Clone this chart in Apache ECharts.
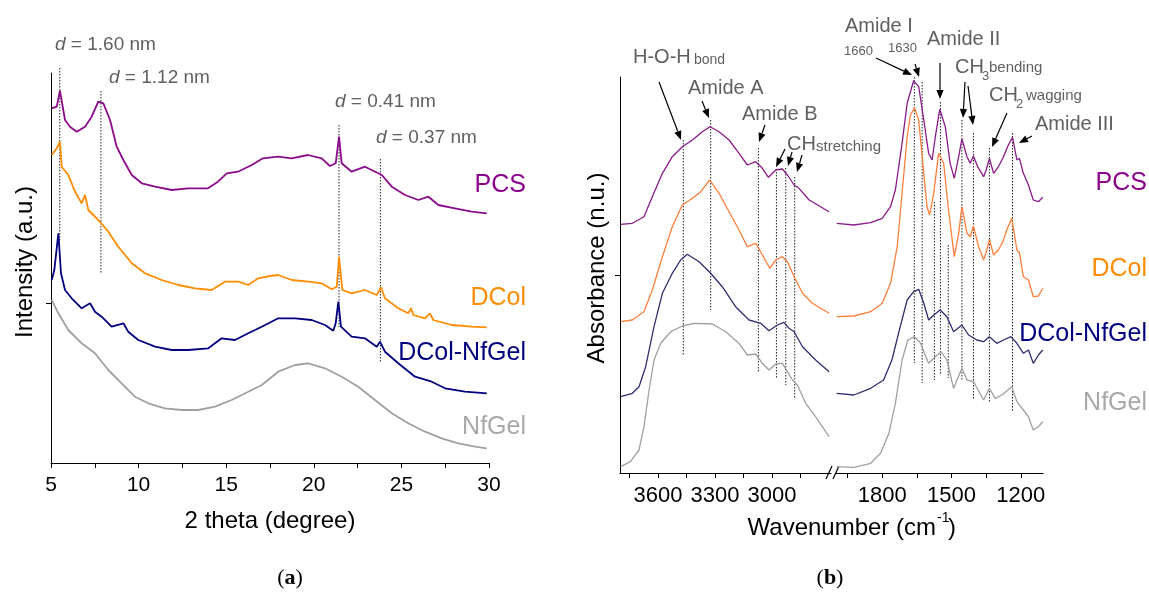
<!DOCTYPE html>
<html>
<head>
<meta charset="utf-8">
<title>XRD and FTIR</title>
<script src="https://cdn.jsdelivr.net/npm/echarts@6/dist/echarts.min.js"></script>
<style>
    html, body { margin: 0; padding: 0; background: #fff; }
    #chart { width: 1149px; height: 597px; }
</style>
</head>
<body>
<div id="chart"></div>
<script>
// (a) XRD: 2 theta (degree) vs stacked intensity (a.u.)
var xrdPCS = [[5.04,354.7],[5.33,356.3],[5.51,372.3],[5.70,353],[5.80,343],[6.08,336.3],[6.47,331.3],[6.94,336.3],[7.32,346.3],[7.70,361.3],[7.99,359.7],[8.37,343],[8.75,316.3],[9.13,303],[9.61,288],[10.18,279.7],[10.94,276.3],[11.89,273],[12.82,274.7],[13.96,274.7],[14.53,281.3],[15.03,289.7],[15.67,291.3],[16.46,298],[17.10,304.7],[17.96,306.3],[18.74,304.7],[19.67,308],[20.45,304.7],[20.92,297],[21.25,299.7],[21.44,326.3],[21.59,299.7],[22.16,291.3],[22.92,296.3],[23.68,289.7],[23.88,288],[24.45,276.3],[25.21,268],[25.97,263],[26.54,266.3],[27.11,258],[28.06,254.7],[29.01,251.3],[29.87,249.7]];
var xrdDCol = [[5.04,308],[5.33,314.7],[5.51,321.3],[5.61,296.3],[5.99,288],[6.37,271.3],[6.75,259.7],[6.94,268],[7.13,253],[7.70,243],[8.27,231.3],[8.84,216.3],[9.61,199.7],[10.37,189.7],[11.32,183],[12.27,178],[13.22,174.7],[14.17,173],[14.93,181.3],[15.69,181.3],[16.26,178],[16.83,184.7],[17.5,187],[17.97,188],[18.74,183],[19.69,181.3],[20.45,179.7],[21.02,173.7],[21.31,176.3],[21.44,206.3],[21.63,173],[22.16,169.7],[22.92,173],[23.59,168],[23.84,175.7],[24.06,164.7],[24.82,154.7],[25.39,149.7],[25.55,154.7],[25.68,148],[26.35,144.7],[26.63,149.7],[26.82,143],[27.87,138],[29.01,136.3],[29.87,135.7]];
var xrdMix = [[5.04,183],[5.19,193],[5.42,229.7],[5.57,189.7],[5.80,173],[6.18,164.7],[6.75,154.7],[7.23,159.7],[7.51,151.3],[7.89,146.3],[8.46,136.3],[9.13,139.7],[9.41,131.3],[9.98,123],[10.94,116.3],[11.89,113],[12.84,113],[13.98,114.7],[14.74,124.7],[15.50,123],[16.26,129.7],[17.03,136.3],[17.97,144.7],[18.93,144.7],[19.88,143],[20.64,138],[21.11,132.3],[21.25,139.7],[21.40,161.3],[21.55,136.3],[22.16,126.3],[22.92,124.7],[23.59,116.3],[23.78,121.3],[24.06,111.3],[24.82,99.7],[25.78,86.3],[26.73,81.3],[27.49,74.7],[28.63,71.3],[29.87,69.7]];
var xrdNfGel = [[5.04,163],[5.42,149.7],[5.99,133],[6.75,119.7],[7.51,109.7],[8.27,93],[9.03,79.7],[9.79,66.3],[10.55,59.7],[11.50,54.7],[12.46,53],[13.41,53],[14.36,56.3],[15.31,63],[16.26,71.3],[17.03,78],[17.97,91.3],[18.93,98],[19.69,99.7],[20.64,94.7],[21.59,86.3],[22.54,76.3],[23.49,63],[24.45,49.7],[25.39,39.7],[26.35,31.3],[27.30,24.7],[28.25,19.7],[29.20,16.3],[29.87,14.7]];
// peak markers: [2theta, top, bottom]
var xrdPeaks = [[5.5,395,223],[7.85,372,190],[21.44,338,136],[23.8,304,101]];

// (b) FTIR: wavenumber (cm-1) vs stacked absorbance (n.u.)
var wnHiPCS = [3797,3735,3674,3630,3577,3525,3472,3419,3367,3326,3279,3226,3174,3130,3086,3051,3019,2981,2946,2919,2884,2858,2805,2700];
var abHiPCS = [248.7,249.7,256.3,276.3,299.7,316.3,326.3,333,341.3,346.3,341.3,333,319.7,308,311.3,304.7,295.7,303,304,298,288,284.7,273,261.3];
var wnHiDCol = [3797,3735,3674,3630,3577,3525,3472,3419,3375,3328,3279,3226,3174,3130,3086,3051,3012,2981,2946,2919,2884,2840,2788,2700];
var abHiDCol = [151.3,153,161.3,183,216.3,246.3,268,274.7,281.3,293,279.7,261.3,243,226.3,229.7,218,204.7,213,216.3,211.3,196.3,179.7,169.7,159.7];
var wnHiMix = [3797,3735,3700,3665,3621,3577,3525,3481,3446,3384,3323,3262,3192,3121,3060,3016,2972,2937,2911,2884,2840,2771,2700];
var abHiMix = [76.3,79.7,86.3,106.3,146.3,179.7,199.7,213,218.7,211.3,199.7,186.3,166.3,153,149.7,142.3,148,150.7,144.7,141.3,126.3,113,101.3];
var wnHiNfGel = [3797,3745,3700,3674,3647,3621,3586,3533,3472,3410,3314,3244,3174,3130,3086,3051,3016,2981,2946,2919,2893,2867,2823,2771,2700];
var abHiNfGel = [6.3,11.3,23,46.3,83,113,129.7,141.3,147,149.7,149,141.3,129.7,118,119,109.7,103,109,109.7,101.3,93,88,69.7,56.3,36.3];

var wnLoPCS = [1997,1923,1850,1800,1764,1743,1714,1692,1664,1642,1620,1599,1584,1570,1551,1527,1506,1488,1469,1455,1433,1419,1405,1387,1361,1350,1336,1318,1297,1275,1254,1236,1217,1206,1189,1167,1146,1124,1105];
var abLoPCS = [249.7,248,250.3,254.7,266.3,283,329.7,369.7,392.3,386.3,353,319.7,313,336.3,363.7,346.3,309.7,294.7,316.3,334,316.3,309.7,317,306.3,296.3,303,314.7,299.7,306.3,316.3,328,335.7,313,314.7,299.7,288,273,271.3,275.7];
var wnLoDCol = [1997,1923,1850,1800,1764,1735,1714,1692,1678,1660,1642,1623,1606,1595,1577,1556,1534,1513,1488,1469,1455,1433,1419,1405,1383,1361,1347,1336,1318,1297,1278,1261,1239,1217,1206,1189,1167,1146,1124,1105];
var abLoDCol = [156.3,157,161.3,169.7,189.7,226.3,279.7,336.3,358,365.3,353,306.3,266.3,258,279.7,319.7,309.7,263,216.3,239.7,266.3,239.7,236.3,247,226.3,213,223,233.7,218,223,231.3,243,254.7,223,220.3,196.3,193,176.3,177,184.7];
var wnLoMix = [1997,1923,1850,1794,1758,1722,1692,1664,1642,1620,1599,1577,1549,1520,1491,1455,1426,1390,1361,1336,1304,1275,1243,1217,1189,1167,1146,1124,1105];
var abLoMix = [79.7,78,84.7,93,113,146.3,173,181.3,183.7,169.7,153,158,163,156.3,141.3,148,138,133,131.3,136.3,129.7,133,136.3,129.7,119.7,123,109.7,118,123];
var wnLoNfGel = [1997,1923,1850,1807,1771,1743,1714,1689,1660,1634,1617,1599,1570,1545,1520,1491,1455,1433,1405,1361,1336,1311,1282,1239,1217,1189,1167,1146,1124,1105];
var abLoNfGel = [6.3,5.7,9.7,19.7,39.7,69.7,113,133,136.3,129.7,119.7,109.7,116.3,121.3,113,84.7,104.7,93,91.3,73,84.7,74.7,78,86.3,71.3,63,56.3,43,46.3,51.3];

// peak markers: [wavenumber, top, bottom]
var ftirPeaksHi = [[3467,333,118],[3323,353,163],[3072,325,101],[2977,301,95],[2928,305,88],[2881,296,75]];
var ftirPeaksLo = [[1661,396,110],[1627,391,90],[1574,271,93],[1548,371,98],[1514,228,95],[1455,353,93],[1405,340,73],[1336,325,71],[1236,340,61]];

var sampleNames = ['PCS', 'DCol', 'DCol-NfGel', 'NfGel'];
var xrdColors = ['#8b0a8b', '#ff8c00', '#000080', '#a0a0a0'];
var ftirColors = ['#8b1a8b', '#ff7f3a', '#2e2e70', '#a0a0a0'];
var nameColors = ['#8b008b', '#ff8c00', '#000080', '#a8a8a8'];

var FONT = '"Liberation Sans", Arial, sans-serif';
var GREY = '#606060';

function zip(xs, ys) {
    var out = [];
    for (var i = 0; i < xs.length; i++) out.push([xs[i], ys[i]]);
    return out;
}

var series = [];
function addLine(data, color, gi, width) {
    series.push({
        type: 'line', data: data, xAxisIndex: gi, yAxisIndex: gi,
        symbol: 'none', silent: true, animation: false,
        lineStyle: { color: color, width: width }
    });
}
function addPeaks(list, gi) {
    for (var i = 0; i < list.length; i++) {
        var p = list[i];
        series.push({
            type: 'line', data: [[p[0], p[1]], [p[0], p[2]]], xAxisIndex: gi, yAxisIndex: gi,
            symbol: 'none', silent: true, animation: false, clip: false, z: 1,
            lineStyle: { color: '#222', width: 1, type: [1.5, 1.5] }
        });
    }
}

addPeaks(xrdPeaks, 0);
[xrdPCS, xrdDCol, xrdMix, xrdNfGel].forEach(function (d, i) { addLine(d, xrdColors[i], 0, 1.8); });

addPeaks(ftirPeaksHi, 1);
addPeaks(ftirPeaksLo, 2);
var hi = [zip(wnHiPCS, abHiPCS), zip(wnHiDCol, abHiDCol), zip(wnHiMix, abHiMix), zip(wnHiNfGel, abHiNfGel)];
var lo = [zip(wnLoPCS, abLoPCS), zip(wnLoDCol, abLoDCol), zip(wnLoMix, abLoMix), zip(wnLoNfGel, abLoNfGel)];
hi.forEach(function (d, i) { addLine(d, ftirColors[i], 1, 1.3); });
lo.forEach(function (d, i) { addLine(d, ftirColors[i], 2, 1.3); });

// text helpers
function txt(x, y, s, size, color, align, extra) {
    var st = { text: s, fill: color, fontSize: size, fontFamily: FONT, align: align || 'left', verticalAlign: 'middle' };
    if (extra) for (var k in extra) st[k] = extra[k];
    return { type: 'text', x: x, y: y, silent: true, style: st };
}
function arrow(x1, y1, x2, y2) {
    var dx = x2 - x1, dy = y2 - y1, len = Math.sqrt(dx * dx + dy * dy);
    var ux = dx / len, uy = dy / len, hl = 9, hw = 3.6;
    var bx = x2 - ux * hl, by = y2 - uy * hl;
    return [
        { type: 'line', silent: true, shape: { x1: x1, y1: y1, x2: bx, y2: by }, style: { stroke: '#000', lineWidth: 1.2 } },
        { type: 'polygon', silent: true, shape: { points: [[x2, y2], [bx - uy * hw, by + ux * hw], [bx + uy * hw, by - ux * hw]] }, style: { fill: '#000' } }
    ];
}
function dText(x, y, s) {
    return txt(x, y, '{i|d}{n| = ' + s + ' nm}', 19, GREY, 'left', {
        rich: {
            i: { fontStyle: 'italic', fontSize: 19, fontFamily: FONT, fill: GREY },
            n: { fontSize: 19, fontFamily: FONT, fill: GREY }
        }
    });
}

var graphics = [
    dText(55, 45, '1.60'), dText(109, 78, '1.12'), dText(335, 102, '0.41'), dText(376, 138, '0.37'),
    txt(526, 185, 'PCS', 25, nameColors[0], 'right'),
    txt(526, 298, 'DCol', 25, nameColors[1], 'right'),
    txt(526, 353, 'DCol-NfGel', 25, nameColors[2], 'right'),
    txt(526, 427, 'NfGel', 25, nameColors[3], 'right'),
    txt(1147, 183, 'PCS', 25, nameColors[0], 'right'),
    txt(1147, 269, 'DCol', 25, nameColors[1], 'right'),
    txt(1147, 334, 'DCol-NfGel', 25, nameColors[2], 'right'),
    txt(1147, 403, 'NfGel', 25, nameColors[3], 'right'),
    // FTIR band labels
    txt(633, 57, 'H-O-H', 20, GREY), txt(694, 60, 'bond', 14, GREY),
    txt(688, 88, 'Amide A', 20, GREY),
    txt(742, 114, 'Amide B', 20, GREY),
    txt(787, 144, 'CH', 20, GREY), txt(816, 147, 'stretching', 15, GREY),
    txt(845, 26, 'Amide I', 20, GREY),
    txt(844, 51, '1660', 13, GREY), txt(888, 48, '1630', 13, GREY),
    txt(927, 39, 'Amide II', 20, GREY),
    txt(955, 67, 'CH', 20, GREY), txt(982, 76, '3', 13, GREY), txt(989, 68, 'bending', 15, GREY),
    txt(989, 95, 'CH', 20, GREY), txt(1016, 104, '2', 13, GREY), txt(1026, 96, 'wagging', 15, GREY),
    txt(1035, 124, 'Amide III', 20, GREY),
    // axis titles
    txt(270, 521, '2 theta (degree)', 24, '#000', 'center'),
    { type: 'text', x: 25, y: 262, rotation: Math.PI / 2, silent: true,
      style: { text: 'Intensity (a.u.)', fill: '#000', fontSize: 24, fontFamily: FONT, align: 'center', verticalAlign: 'middle' } },
    { type: 'text', x: 597, y: 268, rotation: Math.PI / 2, silent: true,
      style: { text: 'Absorbance (n.u.)', fill: '#000', fontSize: 24, fontFamily: FONT, align: 'center', verticalAlign: 'middle' } },
    txt(936, 528, 'Wavenumber (cm', 24, '#000', 'right'),
    txt(937, 518, '-1', 14, '#000'),
    txt(948, 528, ')', 24, '#000'),
    // panel captions
    txt(290, 578, '({b|a})', 22, '#000', 'center', { fontFamily: '"Liberation Serif", serif',
        rich: { b: { fontWeight: 'bold', fontSize: 22, fontFamily: '"Liberation Serif", serif', fill: '#000' } } }),
    txt(830, 578, '({b|b})', 22, '#000', 'center', { fontFamily: '"Liberation Serif", serif',
        rich: { b: { fontWeight: 'bold', fontSize: 22, fontFamily: '"Liberation Serif", serif', fill: '#000' } } }),
    // axis break
    { type: 'line', silent: true, shape: { x1: 826, y1: 479, x2: 832, y2: 466 }, style: { stroke: '#000', lineWidth: 1.2 } },
    { type: 'line', silent: true, shape: { x1: 833, y1: 479, x2: 839, y2: 466 }, style: { stroke: '#000', lineWidth: 1.2 } }
];
var arrows = [
    [659,82,681,140],[702,101,709,118],[765,125,759,142],
    [785,149,776,167],[792,152,788,166],[802,155,797,172],
    [876,58,912,75],[915,64,919,77],[940,63,940,99],
    [965,82,963,118],[968,86,973,125],[1007,113,992,147],[1032,136,1019,143]
];
arrows.forEach(function (a) { graphics = graphics.concat(arrow(a[0], a[1], a[2], a[3])); });

var axisLine = { show: true, onZero: false, lineStyle: { color: '#000', width: 1 } };
var tickStyle = { color: '#000', width: 1 };
var labelStyle = { color: '#000', fontSize: 21, fontFamily: FONT, margin: 12,
    formatter: function (v) { return String(v); } };
var labelStyleB = Object.assign({}, labelStyle, { fontSize: 22 });

var option = {
    backgroundColor: '#fff',
    animation: false,
    grid: [
        { left: 51, top: 73, width: 438, height: 390 },
        { left: 620, top: 77, width: 211, height: 396 },
        { left: 836, top: 77, width: 207, height: 396 }
    ],
    xAxis: [
        { gridIndex: 0, type: 'value', min: 5, max: 30, interval: 5,
          axisLine: axisLine, splitLine: { show: false },
          axisTick: { show: true, length: 5, lineStyle: tickStyle },
          minorTick: { show: true, splitNumber: 2, length: 5, lineStyle: tickStyle },
          axisLabel: labelStyle },
        { gridIndex: 1, type: 'value', min: 2690, max: 3800, inverse: true,
          axisLine: axisLine, splitLine: { show: false },
          axisTick: { show: true, length: 5, lineStyle: tickStyle, customValues: [2850, 3000, 3150, 3300, 3450, 3600, 3750] },
          axisLabel: Object.assign({}, labelStyleB, { customValues: [3000, 3300, 3600] }) },
        { gridIndex: 2, type: 'value', min: 1104, max: 2000, inverse: true,
          axisLine: axisLine, splitLine: { show: false },
          axisTick: { show: true, length: 5, lineStyle: tickStyle, customValues: [1200, 1350, 1500, 1650, 1800, 1950] },
          axisLabel: Object.assign({}, labelStyleB, { customValues: [1200, 1500, 1800] }) }
    ],
    yAxis: [
        { gridIndex: 0, type: 'value', min: 0, max: 390,
          axisLine: axisLine, splitLine: { show: false }, axisLabel: { show: false },
          axisTick: { show: true, length: 5, lineStyle: tickStyle, customValues: [160] } },
        { gridIndex: 1, type: 'value', min: 0, max: 396,
          axisLine: axisLine, splitLine: { show: false }, axisLabel: { show: false },
          axisTick: { show: true, length: 5, lineStyle: tickStyle, customValues: [198] } },
        { gridIndex: 2, type: 'value', min: 0, max: 396, show: false }
    ],
    series: series,
    graphic: graphics
};

var myChart = echarts.init(document.getElementById('chart'));
myChart.setOption(option);
</script>
</body>
</html>
